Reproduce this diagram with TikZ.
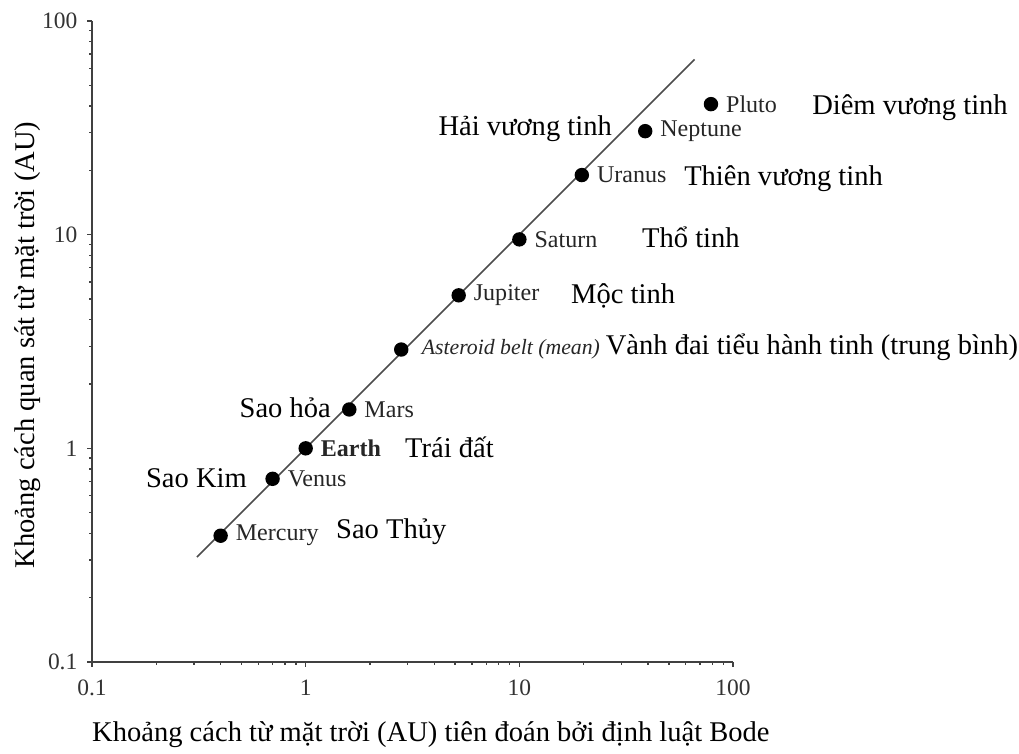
\documentclass[tikz,border=0pt]{standalone}
\usepackage{fontspec}
\setmainfont{Liberation Serif}
\usetikzlibrary{positioning}
\tikzset{
planet/.style={circle, fill=black, minimum size=0.27cm, inner sep=0pt},
pname/.style={font=\fontsize{12.8}{15}\selectfont, inner sep=1pt, text=black!85},
viet/.style={font=\fontsize{15.2}{18}\selectfont, inner sep=1pt},
ticklbl/.style={font=\fontsize{12.5}{14}\selectfont, inner sep=1pt, text=black!80},
axisline/.style={draw=black!75, line width=0.8pt},
fitline/.style={draw=black!70, line width=0.8pt},
}

\begin{document}
\begin{tikzpicture}[x=4cm, y=4cm]
    \useasboundingbox (-0.4305,-0.4258) rectangle (4.338,3.098);

    \draw[axisline] (0,3) -- (0,0) -- (3,0);
    \foreach \d in {0,1,2}{
        \foreach \k in {2,...,9}{
            \draw[axisline] ({\d+log10(\k)},0) -- ++(0,-0.016);
            \draw[axisline] (0,{\d+log10(\k)}) -- ++(-0.016,0);
        }
    }
    \foreach \d/\t in {0/0.1, 1/1, 2/10, 3/100}{
        \draw[axisline] (\d,0) -- ++(0,-0.025);
        \draw[axisline] (0,\d) -- ++(-0.025,0);
        \node[ticklbl, anchor=north] (xt\d) at (\d,-0.075) {\t};
        \node[ticklbl, anchor=east] (yt\d) at (-0.058,\d) {\t};
    }

    \coordinate (lo) at (0.491,0.491);
    \coordinate (hi) at (2.820,2.820);
    \draw[fitline] (lo) -- (hi);

    \foreach \n/\px/\py in {mercury/0.4/0.39, venus/0.7/0.72, earth/1/1, mars/1.6/1.52,
        belt/2.8/2.9, jupiter/5.2/5.2, saturn/10/9.5, uranus/19.6/19,
        neptune/38.8/30.5, pluto/78.8/40.8}
        \node[planet] (\n) at ({log10(\px)+1},{log10(\py)+1}) {};

    \node[pname, right=1mm of mercury] (mercurylbl) {Mercury};
    \node[pname, right=1mm of venus] (venuslbl) {Venus};
    \node[pname, right=1mm of earth] (earthlbl) {\bfseries Earth};
    \node[pname, right=1mm of mars] (marslbl) {Mars};
    \node[pname, right=2mm of belt, font=\fontsize{11.6}{14}\selectfont\itshape] (beltlbl) {Asteroid belt (mean)};
    \node[pname, right=1mm of jupiter] (jupiterlbl) {Jupiter};
    \node[pname, right=1mm of saturn] (saturnlbl) {Saturn};
    \node[pname, right=1mm of uranus] (uranuslbl) {Uranus};
    \node[pname, right=1mm of neptune] (neptunelbl) {Neptune};
    \node[pname, right=1mm of pluto] (plutolbl) {Pluto};

    \node[viet, anchor=base west] (diem) at (3.360,2.564) {Diêm vương tinh};
    \node[viet, anchor=base east] (hai) at (2.443,2.466) {Hải vương tinh};
    \node[viet, anchor=base west] (thien) at (2.761,2.232) {Thiên vương tinh};
    \node[viet, anchor=base west] (tho) at (2.564,1.942) {Thổ tinh};
    \node[viet, anchor=base west] (moc) at (2.232,1.680) {Mộc tinh};
    \node[viet, anchor=base west] (vanh) at (2.394,1.437) {Vành đai tiểu hành tinh (trung bình)};
    \node[viet, anchor=base east] (hoa) at (1.128,1.146) {Sao hỏa};
    \node[viet, anchor=base west] (traidat) at (1.455,0.959) {Trái đất};
    \node[viet, anchor=base east] (kim) at (0.735,0.819) {Sao Kim};
    \node[viet, anchor=base west] (thuy) at (1.132,0.580) {Sao Thủy};

    \node[viet] (xtitle) at (1.586,-0.342) {Khoảng cách từ mặt trời (AU) tiên đoán bởi định luật Bode};
    \node[viet, rotate=90] (ytitle) at (-0.2995,1.483) {Khoảng cách quan sát từ mặt trời (AU)};
\end{tikzpicture}
\end{document}
